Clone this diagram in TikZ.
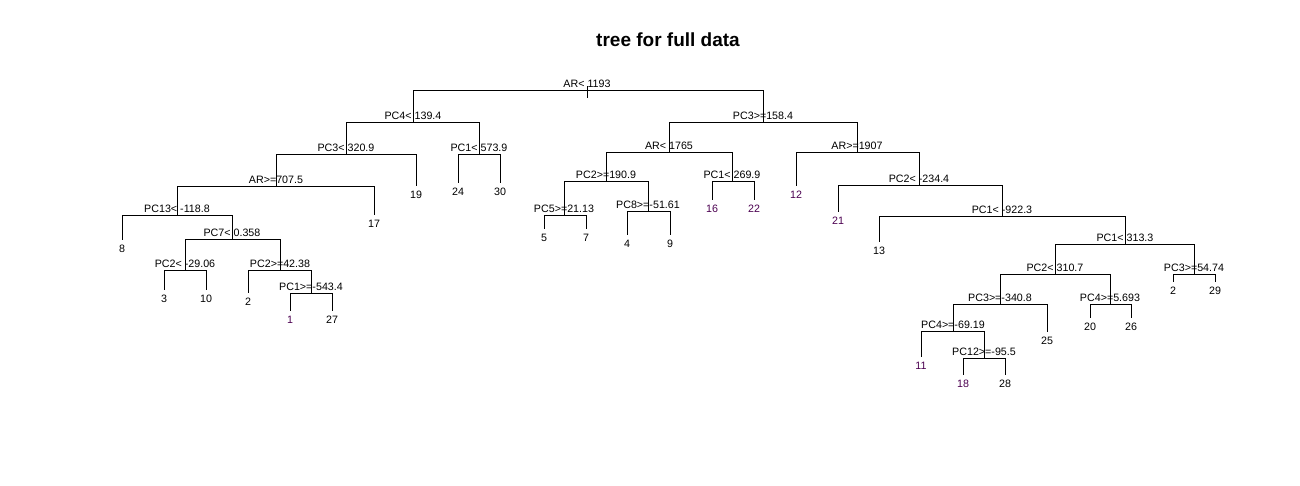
\documentclass[tikz,border=0pt]{standalone}
\usepackage{fontspec}
\setmainfont{Liberation Sans}
\usetikzlibrary{positioning}
\definecolor{leafpurple}{RGB}{75,0,80}
\tikzstyle{br}=[line width=0.9pt,black]
\tikzstyle{split}=[inner sep=0pt,font=\fontsize{10.7}{12}\selectfont]
\tikzstyle{leaf}=[inner sep=0pt,font=\fontsize{10.7}{12}\selectfont]
\tikzstyle{leafp}=[leaf,text=leafpurple]
\tikzstyle{title}=[inner sep=0pt,font=\fontsize{19}{22}\selectfont\bfseries]

\begin{document}
\begin{tikzpicture}[x=1pt,y=-1pt]
\useasboundingbox (0,0) rectangle (1300,485);
\node[title] (ttl) at (668,40) {tree for full data};
\coordinate (a1) at (587,90);
\coordinate (a2) at (413,122);
\coordinate (a3) at (763,122);
\coordinate (a4) at (346,154);
\coordinate (a5) at (479,154);
\coordinate (a6) at (276,186);
\coordinate (a7) at (177,215);
\coordinate (a8) at (232,239);
\coordinate (a9) at (185,270);
\coordinate (a10) at (280,270);
\coordinate (a11) at (311,293);
\coordinate (a12) at (669,152);
\coordinate (a13) at (857,152);
\coordinate (a14) at (606,181);
\coordinate (a15) at (732,181);
\coordinate (a16) at (564,215);
\coordinate (a17) at (648,211);
\coordinate (a18) at (919,185);
\coordinate (a19) at (1002,216);
\coordinate (a20) at (1125,244);
\coordinate (a21) at (1055,274);
\coordinate (a22) at (1194,274);
\coordinate (a23) at (1000,304);
\coordinate (a24) at (1110,304);
\coordinate (a25) at (953,331);
\coordinate (a26) at (984,358);
\coordinate (rtop) at (587,86);
\coordinate (rbot) at (587,98);
\coordinate (l19) at (416,186);
\coordinate (l24) at (458,183);
\coordinate (l30) at (500,183);
\coordinate (l17) at (374,215);
\coordinate (l8) at (122,240);
\coordinate (l3) at (164,290);
\coordinate (l10) at (206,290);
\coordinate (l2) at (248,293);
\coordinate (l1) at (290,311);
\coordinate (l27) at (332,311);
\coordinate (l5) at (544,229);
\coordinate (l7) at (586,229);
\coordinate (l4) at (627,235);
\coordinate (l9) at (670,235);
\coordinate (l16) at (712,200);
\coordinate (l22) at (754,200);
\coordinate (l12) at (796,186);
\coordinate (l21) at (838,212);
\coordinate (l13) at (879,242);
\coordinate (l2b) at (1173,282);
\coordinate (l29) at (1215,282);
\coordinate (l20) at (1090,318);
\coordinate (l26) at (1131,318);
\coordinate (l25) at (1047,332);
\coordinate (l11) at (921,357);
\coordinate (l18) at (963,375);
\coordinate (l28) at (1005,375);
\draw[br] (rtop) -- (rbot);
\draw[br] (a1) -| (a2);
\draw[br] (a1) -| (a3);
\draw[br] (a2) -| (a4);
\draw[br] (a2) -| (a5);
\draw[br] (a4) -| (a6);
\draw[br] (a4) -| (l19);
\draw[br] (a5) -| (l24);
\draw[br] (a5) -| (l30);
\draw[br] (a6) -| (a7);
\draw[br] (a6) -| (l17);
\draw[br] (a7) -| (l8);
\draw[br] (a7) -| (a8);
\draw[br] (a8) -| (a9);
\draw[br] (a8) -| (a10);
\draw[br] (a9) -| (l3);
\draw[br] (a9) -| (l10);
\draw[br] (a10) -| (l2);
\draw[br] (a10) -| (a11);
\draw[br] (a11) -| (l1);
\draw[br] (a11) -| (l27);
\draw[br] (a3) -| (a12);
\draw[br] (a3) -| (a13);
\draw[br] (a12) -| (a14);
\draw[br] (a12) -| (a15);
\draw[br] (a14) -| (a16);
\draw[br] (a14) -| (a17);
\draw[br] (a16) -| (l5);
\draw[br] (a16) -| (l7);
\draw[br] (a17) -| (l4);
\draw[br] (a17) -| (l9);
\draw[br] (a15) -| (l16);
\draw[br] (a15) -| (l22);
\draw[br] (a13) -| (l12);
\draw[br] (a13) -| (a18);
\draw[br] (a18) -| (l21);
\draw[br] (a18) -| (a19);
\draw[br] (a19) -| (l13);
\draw[br] (a19) -| (a20);
\draw[br] (a20) -| (a21);
\draw[br] (a20) -| (a22);
\draw[br] (a22) -| (l2b);
\draw[br] (a22) -| (l29);
\draw[br] (a21) -| (a23);
\draw[br] (a21) -| (a24);
\draw[br] (a24) -| (l20);
\draw[br] (a24) -| (l26);
\draw[br] (a23) -| (a25);
\draw[br] (a23) -| (l25);
\draw[br] (a25) -| (l11);
\draw[br] (a25) -| (a26);
\draw[br] (a26) -| (l18);
\draw[br] (a26) -| (l28);
\node[split,above=2.5pt of a1] (t1) {AR< 1193};
\node[split,above=2.5pt of a2] (t2) {PC4< 139.4};
\node[split,above=2.5pt of a3] (t3) {PC3>=158.4};
\node[split,above=2.5pt of a4] (t4) {PC3< 320.9};
\node[split,above=2.5pt of a5] (t5) {PC1< 573.9};
\node[split,above=2.5pt of a6] (t6) {AR>=707.5};
\node[split,above=2.5pt of a7] (t7) {PC13< -118.8};
\node[split,above=2.5pt of a8] (t8) {PC7< 0.358};
\node[split,above=2.5pt of a9] (t9) {PC2< -29.06};
\node[split,above=2.5pt of a10] (t10) {PC2>=42.38};
\node[split,above=2.5pt of a11] (t11) {PC1>=-543.4};
\node[split,above=2.5pt of a12] (t12) {AR< 1765};
\node[split,above=2.5pt of a13] (t13) {AR>=1907};
\node[split,above=2.5pt of a14] (t14) {PC2>=190.9};
\node[split,above=2.5pt of a15] (t15) {PC1< 269.9};
\node[split,above=2.5pt of a16] (t16) {PC5>=21.13};
\node[split,above=2.5pt of a17] (t17) {PC8>=-51.61};
\node[split,above=2.5pt of a18] (t18) {PC2< -234.4};
\node[split,above=2.5pt of a19] (t19) {PC1< -922.3};
\node[split,above=2.5pt of a20] (t20) {PC1< 313.3};
\node[split,above=2.5pt of a21] (t21) {PC2< 310.7};
\node[split,above=2.5pt of a22] (t22) {PC3>=54.74};
\node[split,above=2.5pt of a23] (t23) {PC3>=-340.8};
\node[split,above=2.5pt of a24] (t24) {PC4>=5.693};
\node[split,above=2.5pt of a25] (t25) {PC4>=-69.19};
\node[split,above=2.5pt of a26] (t26) {PC12>=-95.5};
\node[leaf,below=5pt of l19] (m19) {19};
\node[leaf,below=5pt of l24] (m24) {24};
\node[leaf,below=5pt of l30] (m30) {30};
\node[leaf,below=5pt of l17] (m17) {17};
\node[leaf,below=5pt of l8] (m8) {8};
\node[leaf,below=5pt of l3] (m3) {3};
\node[leaf,below=5pt of l10] (m10) {10};
\node[leaf,below=5pt of l2] (m2) {2};
\node[leafp,below=5pt of l1] (m1) {1};
\node[leaf,below=5pt of l27] (m27) {27};
\node[leaf,below=5pt of l5] (m5) {5};
\node[leaf,below=5pt of l7] (m7) {7};
\node[leaf,below=5pt of l4] (m4) {4};
\node[leaf,below=5pt of l9] (m9) {9};
\node[leafp,below=5pt of l16] (m16) {16};
\node[leafp,below=5pt of l22] (m22) {22};
\node[leafp,below=5pt of l12] (m12) {12};
\node[leafp,below=5pt of l21] (m21) {21};
\node[leaf,below=5pt of l13] (m13) {13};
\node[leaf,below=5pt of l2b] (m2b) {2};
\node[leaf,below=5pt of l29] (m29) {29};
\node[leaf,below=5pt of l20] (m20) {20};
\node[leaf,below=5pt of l26] (m26) {26};
\node[leaf,below=5pt of l25] (m25) {25};
\node[leafp,below=5pt of l11] (m11) {11};
\node[leafp,below=5pt of l18] (m18) {18};
\node[leaf,below=5pt of l28] (m28) {28};
\end{tikzpicture}
\end{document}
